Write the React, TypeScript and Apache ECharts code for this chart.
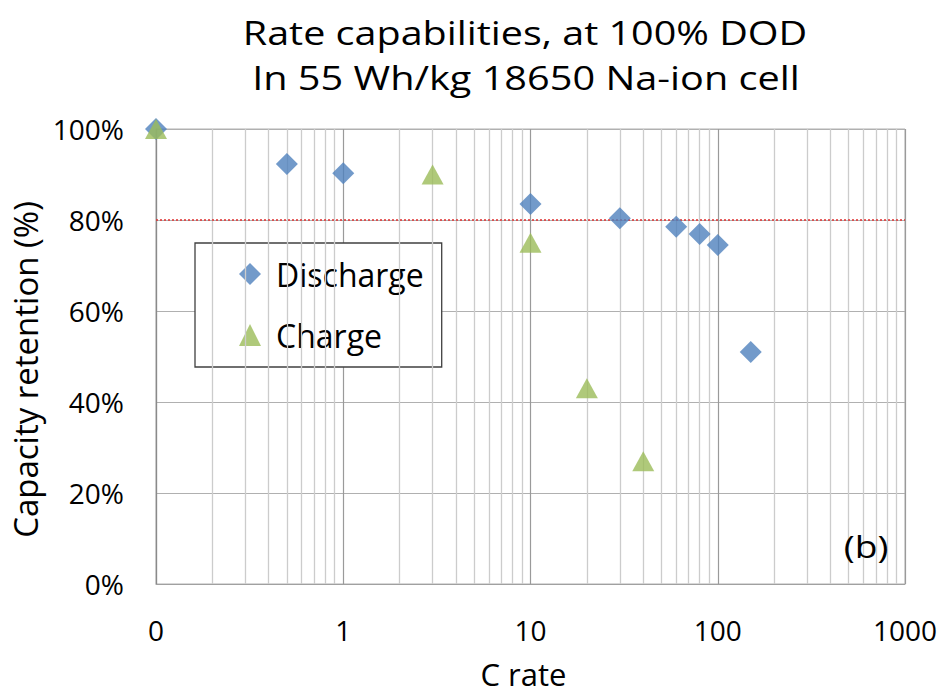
import React, { useEffect, useRef } from "react";
import * as echarts from "echarts";

const titleLines = ["Rate capabilities, at 100% DOD", "In 55 Wh/kg 18650 Na-ion cell"];
const xAxisName = "C rate";
const yAxisName = "Capacity retention (%)";
const panelLabel = "(b)";

const dischargeX = [0.1, 0.5, 1, 10, 30, 60, 80, 100, 150];
const dischargeY = [100, 92.3, 90.3, 83.5, 80.4, 78.5, 76.9, 74.5, 51];
const chargeX = [0.1, 3, 10, 20, 40];
const chargeY = [100, 90, 75, 43, 27];
const thresholdY = 80;

const decades = [0.1, 1, 10, 100];
const minorMultipliers = [2, 3, 4, 5, 6, 7, 8, 9];

const FONT = "'Open Sans', 'Noto Sans', sans-serif";

export default function App() {
  const ref = useRef<HTMLDivElement>(null);
  useEffect(() => {
    if (!ref.current) return;
    const chart = echarts.init(ref.current, undefined, { renderer: "svg" });
    const minorLines: any[] = [];
    decades.forEach((d) =>
      minorMultipliers.forEach((m) => minorLines.push({ xAxis: +(d * m).toPrecision(3) }))
    );
    const txt = (text: string, x: number, y: number, size: number, sx: number) => ({
      type: "text",
      x,
      y,
      scaleX: sx,
      z: 10,
      style: {
        text,
        fontFamily: FONT,
        fontSize: size,
        fill: "#000",
        textAlign: "center",
        textVerticalAlign: "middle",
      },
    });
    chart.setOption({
      animation: false,
      backgroundColor: "#ffffff",
      textStyle: { fontFamily: FONT, color: "#000" },
      graphic: [
        txt(titleLines[0], 525, 33, 32, 1.235),
        txt(titleLines[1], 526, 78, 32, 1.24),
        txt(panelLabel, 866, 546, 31, 1.2),
      ],
      grid: {
        left: 156,
        right: 40,
        top: 129,
        bottom: 112,
        show: true,
        borderColor: "#b0b0b0",
        borderWidth: 1,
      },
      legend: {
        orient: "vertical",
        left: 195,
        top: 243,
        padding: [15, 18, 16, 44],
        itemGap: 29,
        itemWidth: 22,
        itemHeight: 22,
        backgroundColor: "#ffffff",
        borderColor: "#404040",
        borderWidth: 1.3,
        textStyle: { fontFamily: FONT, fontSize: 32, color: "#000", padding: [0, 0, 0, 10] },
        data: ["Discharge", "Charge"],
      },
      xAxis: {
        type: "log",
        logBase: 10,
        min: 0.1,
        max: 1000,
        name: xAxisName,
        nameLocation: "middle",
        nameGap: 74,
        nameTextStyle: { fontFamily: FONT, fontSize: 31, color: "#000", padding: [0, 14, 0, 0] },
        axisLine: { show: true, lineStyle: { color: "#a0a0a0" } },
        axisTick: { show: false },
        axisLabel: {
          fontFamily: FONT,
          fontSize: 28,
          color: "#000",
          margin: 32,
          formatter: (v: number) => (v < 1 ? "0" : String(Math.round(v))),
        },
        splitLine: { show: true, lineStyle: { color: "#9a9a9a", width: 1.2 } },
      },
      yAxis: {
        type: "value",
        min: 0,
        max: 100,
        interval: 20,
        name: yAxisName,
        nameLocation: "middle",
        nameGap: 110,
        nameTextStyle: { fontFamily: FONT, fontSize: 33, color: "#000", padding: [0, 26, 0, 0] },
        axisLine: { show: true, lineStyle: { color: "#8a8a8a", width: 1.2 } },
        axisTick: { show: false },
        axisLabel: {
          fontFamily: FONT,
          fontSize: 28,
          color: "#000",
          margin: 32,
          formatter: "{value}%",
        },
        splitLine: { show: true, lineStyle: { color: "#b0b0b0", width: 1.2 } },
      },
      series: [
        {
          name: "minor",
          type: "line",
          data: [],
          silent: true,
          z: 1,
          markLine: {
            silent: true,
            symbol: ["none", "none"],
            label: { show: false },
            lineStyle: { color: "#cccccc", type: "solid", width: 1.3 },
            data: minorLines,
          },
        },
        {
          name: "threshold",
          type: "line",
          data: [],
          silent: true,
          z: 2,
          markLine: {
            silent: true,
            symbol: ["none", "none"],
            label: { show: false },
            lineStyle: { color: "#e03030", type: [2, 2], width: 1.5 },
            data: [{ yAxis: thresholdY }],
          },
        },
        {
          name: "Discharge",
          type: "scatter",
          symbol: "diamond",
          symbolSize: 22,
          clip: false,
          z: 5,
          itemStyle: { color: "#4F81BD" },
          data: dischargeX.map((x, i) => [x, dischargeY[i]]),
        },
        {
          name: "Charge",
          type: "scatter",
          symbol: "triangle",
          symbolSize: [22, 20],
          clip: false,
          z: 6,
          itemStyle: { color: "#9BBB59" },
          data: chargeX.map((x, i) => [x, chargeY[i]]),
        },
      ],
    });
    return () => chart.dispose();
  }, []);
  return <div ref={ref} style={{ width: 945, height: 696, position: "absolute", left: 0, top: 0 }} />;
}
